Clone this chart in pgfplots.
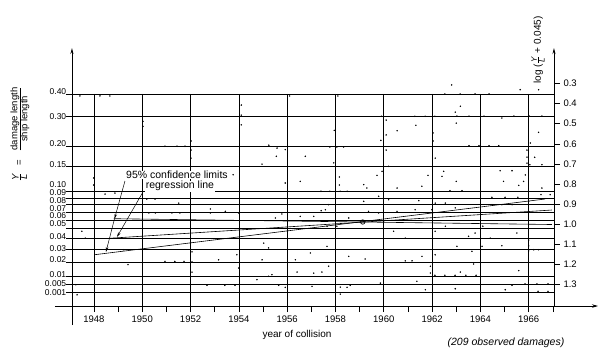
\documentclass[border=0pt]{standalone}
\usepackage{fontspec}
\setmainfont{Liberation Sans}
\usepackage{pgfplots}
\pgfplotsset{compat=1.18}
\usetikzlibrary{arrows.meta}
\pgfplotstableread{
x y
1947.42 -0.362
1948.25 -0.362
1948.66 -0.362
1950.03 -0.488
1950.03 -0.513
1950.94 -0.612
1951.44 -0.612
1951.77 -0.612
1952.02 -0.586
1952.02 -0.631
1952.02 -0.671
1947.99 -0.770
1947.99 -0.805
1948.46 -0.850
1948.87 -0.845
1954.10 -0.407
1954.10 -0.457
1954.10 -0.506
1956.10 -0.362
1958.10 -0.362
1955.24 -0.607
1955.58 -0.621
1955.92 -0.629
1955.55 -0.662
1954.96 -0.701
1956.75 -0.662
1957.95 -0.533
1957.93 -0.695
1957.77 -0.616
1958.06 -0.616
1958.34 -0.616
1959.90 -0.463
1959.88 -0.583
1960.10 -0.482
1960.10 -0.556
1960.10 -0.631
1960.20 -0.712
1959.93 -0.737
1959.72 -0.757
1959.17 -0.803
1959.30 -0.820
1958.16 -0.765
1958.16 -0.805
1957.40 -0.836
1957.77 -0.836
1958.19 -0.836
1958.48 -0.836
1955.92 -0.795
1956.54 -0.787
1959.79 -0.861
1953.76 -0.754
1962.53 -0.352
1963.16 -0.352
1963.78 -0.352
1964.36 -0.352
1965.65 -0.331
1966.41 -0.331
1963.17 -0.413
1962.96 -0.442
1961.29 -0.463
1961.71 -0.463
1962.12 -0.463
1963.03 -0.462
1963.53 -0.462
1964.15 -0.462
1964.89 -0.472
1965.39 -0.462
1966.02 -0.462
1966.55 -0.462
1960.55 -0.535
1961.33 -0.508
1963.00 -0.497
1962.04 -0.546
1962.04 -0.586
1966.41 -0.543
1966.07 -0.596
1963.53 -0.609
1963.94 -0.609
1964.36 -0.609
1964.76 -0.609
1965.93 -0.631
1965.93 -0.666
1965.93 -0.696
1962.13 -0.671
1966.25 -0.667
1966.05 -0.704
1966.55 -0.704
1961.83 -0.757
1962.48 -0.737
1962.41 -0.762
1963.00 -0.787
1964.82 -0.734
1965.31 -0.734
1964.96 -0.787
1965.59 -0.807
1965.79 -0.787
1965.86 -0.755
1960.55 -0.820
1961.58 -0.811
1962.74 -0.833
1963.24 -0.833
1964.48 -0.866
1965.02 -0.866
1965.55 -0.866
1966.51 -0.853
1966.89 -0.853
1966.55 -0.820
1950.19 -0.875
1950.53 -0.875
1951.51 -0.895
1950.27 -0.944
1950.54 -0.944
1951.23 -0.944
1951.56 -0.944
1952.82 -0.924
1952.82 -0.944
1953.44 -0.936
1947.50 -1.035
1947.64 -1.069
1949.23 -1.127
1949.41 -1.201
1950.94 -1.185
1951.35 -1.185
1951.73 -1.185
1952.06 -1.138
1952.06 -1.188
1952.06 -1.238
1953.16 -1.177
1952.68 -1.304
1953.42 -1.304
1953.84 -1.304
1947.25 -1.301
1947.30 -1.351
1953.99 -0.944
1955.51 -0.969
1955.78 -0.949
1956.54 -0.961
1957.10 -0.961
1957.41 -0.933
1957.58 -0.928
1957.72 -0.903
1959.17 -0.886
1959.37 -0.936
1959.79 -0.944
1957.65 -1.010
1958.06 -1.010
1958.55 -0.969
1960.20 -0.878
1955.03 -1.094
1955.23 -1.118
1956.96 -1.143
1957.65 -1.110
1953.92 -1.152
1958.55 -1.160
1959.23 -1.173
1954.96 -1.177
1956.34 -1.177
1953.99 -1.218
1956.41 -1.238
1957.10 -1.243
1957.44 -1.238
1957.72 -1.209
1954.75 -1.276
1955.23 -1.259
1955.37 -1.251
1955.65 -1.304
1955.92 -1.314
1957.03 -1.309
1958.20 -1.313
1958.20 -1.348
1958.48 -1.314
1958.61 -1.304
1959.86 -1.293
1961.45 -0.883
1962.13 -0.895
1962.55 -0.895
1960.55 -0.936
1961.30 -0.928
1961.99 -0.928
1962.96 -0.919
1964.48 -0.903
1964.89 -0.903
1965.31 -0.903
1966.00 -0.886
1960.41 -1.035
1960.89 -1.069
1962.13 -1.035
1962.55 -1.010
1963.51 -1.060
1963.78 -1.044
1964.10 -1.010
1964.41 -1.069
1965.51 -1.044
1963.03 -1.110
1963.65 -1.135
1964.89 -1.107
1964.07 -1.110
1966.00 -1.079
1966.00 -1.108
1966.00 -1.133
1966.21 -1.127
1966.41 -1.127
1961.58 -1.160
1962.13 -1.152
1960.89 -1.182
1961.17 -1.182
1963.72 -1.198
1961.93 -1.209
1961.93 -1.243
1963.17 -1.238
1965.59 -1.231
1962.12 -1.254
1962.53 -1.254
1962.95 -1.254
1963.40 -1.254
1963.82 -1.254
1961.37 -1.284
1961.72 -1.326
1962.96 -1.321
1965.03 -1.326
1965.31 -1.304
1965.85 -1.297
1966.34 -1.297
1966.80 -1.297
1966.39 -1.334
1966.80 -1.334
1962.81 -0.307
}\damages
\begin{document}
\begin{tikzpicture}[font=\fontsize{9.5}{11}\selectfont]
\begin{axis}[
  scale only axis, width=482pt, height=258pt,
  xmin=1947.089, xmax=1967.048, ymin=-1.407, ymax=-0.1234,
  clip=false,
  axis line style={draw=none},
  tick pos=left,
  tick align=outside,
  xtick={1948,1950,1952,1954,1956,1958,1960,1962,1964,1966},
  xticklabels={1948,1950,1952,1954,1956,1958,1960,1962,1964,1966},
  minor xtick={1949,1951,1953,1955,1957,1959,1961,1963,1965,1967},
  ytick={-0.35164,-0.46218,-0.61083,-0.70997,-0.83863,-0.86967,-0.90309,-0.93930,-0.97881,-1.02228,-1.07058,-1.12494,-1.18709,-1.25964,-1.30103,-1.33724},
  yticklabels={},
  ymajorgrids,
  major grid style={black, line width=0.6pt},
  tick style={black, line width=0.6pt},
  major tick length=6pt, minor tick length=6pt,
  xticklabel style={font=\fontsize{9.5}{11}\selectfont},
]
\path (axis cs:1944.11,0.1154) rectangle (axis cs:1969.16,-1.6308);
\pgfplotsinvokeforeach{1948,1950,1952,1954,1956,1958,1960,1962,1964,1966}{
  \draw[line width=0.6pt] (axis cs:#1,-0.35164) -- (axis cs:#1,-1.407);
}
\draw[line width=0.7pt, -{Stealth[length=6pt,width=3.5pt]}] (axis cs:1946.385,-1.407) -- (axis cs:1968.87,-1.407);
\draw[line width=0.8pt, -{Stealth[length=6pt,width=3pt]}] (axis cs:1947.089,-1.5015) -- (axis cs:1947.089,-0.1234);
\draw[line width=0.8pt, -{Stealth[length=6pt,width=3pt]}] (axis cs:1967.048,-1.407) -- (axis cs:1967.048,-0.1234);

% left scale labels (Y/L values), spread as in the original
\begin{scope}[every node/.style={anchor=east, inner sep=0pt, font=\fontsize{8.5}{9}\selectfont}]
\node at (axis cs:1946.86,-0.3408) {0.40};
\node at (axis cs:1946.86,-0.4652) {0.30};
\node at (axis cs:1946.86,-0.6010) {0.20};
\node at (axis cs:1946.86,-0.7055) {0.15};
\node at (axis cs:1946.86,-0.8050) {0.10};
\node at (axis cs:1946.86,-0.8448) {0.09};
\node at (axis cs:1946.86,-0.8846) {0.08};
\node at (axis cs:1946.86,-0.9219) {0.07};
\node at (axis cs:1946.86,-0.9592) {0.06};
\node at (axis cs:1946.86,-0.9965) {0.05};
\node at (axis cs:1946.86,-1.0637) {0.04};
\node at (axis cs:1946.86,-1.1199) {0.03};
\node at (axis cs:1946.86,-1.1746) {0.02};
\node at (axis cs:1946.86,-1.2527) {0.01};
\node at (axis cs:1946.86,-1.2940) {0.005};
\node at (axis cs:1946.86,-1.3388) {0.001};
\end{scope}

\addplot[only marks, mark=*, mark size=0.5pt, black] table[x=x, y=y] {\damages};

% regression line and 95% confidence limits
\addplot[black, line width=0.6pt] coordinates {(1948.03,-1.1517) (1966.68,-0.8746)};
\addplot[black, line width=0.6pt] coordinates {(1948.50,-1.0711) (1966.96,-0.9294)};
\addplot[black, line width=0.6pt] coordinates {(1948.82,-0.9726) (1966.96,-1.0015)};
\addplot[only marks, mark=o, mark size=2.2pt, mark options={line width=0.7pt, fill=white}, black] coordinates {(1959.13,-0.989)};

\node[fill=white, inner sep=0.6pt, font=\fontsize{10.5}{12}\selectfont] at (axis cs:1951.437,-0.7552) {95\% confidence limits};
\node[fill=white, inner sep=0.6pt, font=\fontsize{10.5}{12}\selectfont] at (axis cs:1951.56,-0.8100) {regression line};

\draw[line width=0.5pt, -{Stealth[length=5pt,width=2.5pt]}] (axis cs:1949.284,-0.7851) -- (axis cs:1948.849,-0.9741);
\draw[line width=0.5pt, -{Stealth[length=5pt,width=2.5pt]}] (axis cs:1948.849,-0.9741) -- (axis cs:1948.497,-1.1383);
\draw[line width=0.5pt, -{Stealth[length=5pt,width=2.5pt]}] (axis cs:1950.029,-0.8398) -- (axis cs:1948.952,-1.0637);

\node[rotate=90] at (axis cs:1944.936,-0.5512) {$\frac{\mbox{\fontsize{9.5}{10}\selectfont\itshape Y}}{\mbox{\fontsize{9.5}{10}\selectfont\itshape L}}$\ \ \ =\ \ \ $\frac{\mbox{\fontsize{9.5}{10}\selectfont damage length}}{\mbox{\fontsize{9.5}{10}\selectfont ship length}}$};
\node[rotate=90, font=\fontsize{10}{12}\selectfont] at (axis cs:1966.385,-0.1333) {log ($\frac{\mbox{\fontsize{8}{9}\selectfont\itshape Y}}{\mbox{\fontsize{8}{9}\selectfont\itshape L}}$ + 0.045)};

\node[font=\fontsize{10}{12}\selectfont] at (axis cs:1956.406,-1.5512) {year of collision};
\node[font=\fontsize{10.5}{12}\selectfont\itshape] at (axis cs:1965.06,-1.591) {(209 observed damages)};
\end{axis}
\begin{axis}[
  scale only axis, width=482pt, height=258pt,
  xmin=1947.089, xmax=1967.048, ymin=-1.407, ymax=-0.1234,
  axis line style={draw=none},
  xtick=\empty,
  ytick pos=right,
  tick align=outside,
  ytick={-0.3,-0.4,-0.5,-0.6,-0.7,-0.8,-0.9,-1.0,-1.1,-1.2,-1.3},
  yticklabels={0.3,0.4,0.5,0.6,0.7,0.8,0.9,1.0,1.1,1.2,1.3},
  tick style={black, line width=0.6pt},
  major tick length=6pt,
  ticklabel style={font=\fontsize{9.5}{11}\selectfont},
]
\end{axis}
\end{tikzpicture}
\end{document}
